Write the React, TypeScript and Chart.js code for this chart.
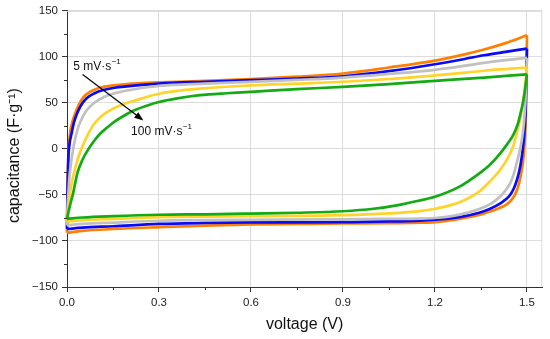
import React, { useEffect, useRef } from 'react';
import { Chart, registerables } from 'chart.js';

Chart.register(...registerables);

// ---- data (voltage V, capacitance F/g) ----
const scanRates = ['5 mV/s', '10 mV/s', '20 mV/s', '50 mV/s', '100 mV/s'];
const colors = ['#FF7F00', '#0A0AF5', '#C0C0C0', '#FFD42A', '#14AA14'];

const orangeUp = [[0,-91],[0.001,-65],[0.002,-40],[0.005,-5],[0.01,17],[0.018,30],[0.026,38],[0.04,49],[0.053,56],[0.075,62],[0.097,65.5],[0.14,68.5],[0.195,70.5],[0.3,72.3],[0.45,74],[0.6,76],[0.75,78.5],[0.9,82],[1.05,88.5],[1.2,96],[1.3,103],[1.36,108],[1.43,115],[1.5,123.5]];
const orangeDown = [[0,-91],[0.05,-89],[0.15,-87],[0.3,-85],[0.45,-83.3],[0.6,-82],[0.75,-81.5],[0.9,-81],[1.05,-80.6],[1.15,-80.2],[1.2,-79.5],[1.28,-76],[1.347,-71.5],[1.38,-68],[1.412,-64],[1.435,-60],[1.455,-53],[1.466,-46],[1.475,-36],[1.483,-23],[1.489,-8],[1.493,10],[1.496,35],[1.498,70],[1.5,123.5]];

const blueUp = [[0,-87],[0.001,-60],[0.002,-40],[0.004,-12],[0.008,5],[0.015,17],[0.022,28],[0.032,38],[0.045,47],[0.064,55],[0.09,60.5],[0.118,64],[0.155,66.5],[0.195,68],[0.3,71],[0.45,73],[0.6,74.7],[0.75,76.5],[0.9,79],[1.05,84.5],[1.2,92],[1.3,98],[1.36,101.8],[1.43,105.5],[1.5,109]];
const blueDown = [[0,-87],[0.05,-85.5],[0.15,-84],[0.3,-81.5],[0.45,-80.4],[0.6,-79.8],[0.9,-79.6],[1.05,-78.8],[1.15,-77.8],[1.2,-76.8],[1.28,-74],[1.347,-69],[1.38,-65],[1.412,-59.5],[1.43,-55],[1.445,-50],[1.457,-43],[1.466,-35],[1.475,-24],[1.483,-9],[1.488,5],[1.493,24],[1.496,45],[1.498,75],[1.5,109]];

const grayUp = [[0,-83],[0.002,-62],[0.005,-45],[0.008,-30],[0.012,-18],[0.02,0],[0.028,13],[0.037,24],[0.05,34],[0.064,42],[0.09,50.5],[0.118,56],[0.155,60.5],[0.195,63.5],[0.3,68.5],[0.45,71],[0.6,72.8],[0.75,75],[0.9,77.6],[1.05,81.5],[1.2,86],[1.3,90.5],[1.36,93.5],[1.43,96.5],[1.5,99]];
const grayDown = [[0,-83],[0.05,-81.5],[0.15,-80],[0.3,-78],[0.45,-77.3],[0.6,-77],[0.9,-76.4],[1.05,-76],[1.15,-75.7],[1.2,-75],[1.28,-71.3],[1.347,-65],[1.38,-60],[1.412,-52],[1.43,-45],[1.445,-37.5],[1.457,-27],[1.466,-16],[1.475,-4],[1.483,9.5],[1.49,28],[1.495,52],[1.5,99]];

const yellowUp = [[0,-79],[0.005,-60],[0.01,-47],[0.02,-30],[0.03,-17],[0.04,-6],[0.053,5],[0.07,17],[0.086,26],[0.11,35],[0.14,42],[0.175,47.5],[0.216,52],[0.3,60],[0.434,65.5],[0.6,69],[0.75,71],[0.9,73],[1.05,76],[1.2,80],[1.3,83],[1.36,85],[1.43,86.8],[1.5,88.5]];
const yellowDown = [[0,-79],[0.05,-77.5],[0.15,-76],[0.3,-74],[0.45,-73.5],[0.6,-73],[0.9,-72],[1.05,-70],[1.15,-67.5],[1.2,-65],[1.28,-58],[1.347,-45.5],[1.38,-35],[1.412,-23],[1.43,-14],[1.445,-5],[1.457,5],[1.466,16],[1.475,28],[1.483,42],[1.49,58],[1.495,72],[1.5,88.5]];

const greenUp = [[0,-76],[0.005,-68],[0.01,-61],[0.02,-48],[0.028,-35],[0.035,-25],[0.05,-12],[0.07,0],[0.09,9.5],[0.108,16.5],[0.13,23],[0.15,28.5],[0.18,35],[0.216,41.5],[0.26,47],[0.3,51],[0.36,55],[0.434,58.4],[0.52,60.5],[0.6,62],[0.75,65],[0.9,67.5],[1.05,70.5],[1.2,74],[1.36,77.6],[1.5,81]];
const greenDown = [[0,-76],[0.05,-74.5],[0.15,-73],[0.3,-71.5],[0.45,-71],[0.6,-70.2],[0.75,-69.3],[0.9,-67.7],[1.0,-65],[1.08,-61],[1.15,-56],[1.2,-52],[1.28,-41],[1.347,-26],[1.38,-17],[1.41,-6],[1.435,5],[1.455,15],[1.47,27],[1.48,40],[1.49,56],[1.5,81]];

const curves = [
  [orangeUp, orangeDown],
  [blueUp, blueDown],
  [grayUp, grayDown],
  [yellowUp, yellowDown],
  [greenUp, greenDown],
];

const xMinor = [0.15, 0.45, 0.75, 1.05, 1.35];
const yMinor = [-125, -75, -25, 25, 75, 125];

// annotation anchor points in data units
const arrowFrom = [0.051, 81];
const arrowTo = [0.249, 31];
const labelLow = { text: '5 mV\u00B7s', sup: '\u22121', x: 0.02, y: 89.6 };
const labelHigh = { text: '100 mV\u00B7s', sup: '\u22121', x: 0.209, y: 18.5 };

const FONT = "'Liberation Sans', Arial, sans-serif";

const extrasPlugin = {
  id: 'extras',
  beforeDatasetsDraw(chart: any) {
    const { ctx, chartArea } = chart;
    ctx.save();
    ctx.strokeStyle = '#DCDCDC';
    ctx.lineWidth = 1;
    ctx.beginPath();
    ctx.moveTo(chartArea.left, chartArea.top + 0.5);
    ctx.lineTo(chartArea.right, chartArea.top + 0.5);
    ctx.moveTo(chartArea.right - 0.5, chartArea.top);
    ctx.lineTo(chartArea.right - 0.5, chartArea.bottom);
    ctx.stroke();
    ctx.restore();
  },
  afterDraw(chart: any) {
    const { ctx, chartArea, scales } = chart;
    const x = scales.x, y = scales.y;
    ctx.save();
    ctx.strokeStyle = '#333';
    ctx.lineWidth = 1;
    ctx.beginPath();
    for (const v of xMinor) {
      const px = Math.round(x.getPixelForValue(v)) + 0.5;
      ctx.moveTo(px, chartArea.bottom);
      ctx.lineTo(px, chartArea.bottom + 3);
    }
    for (const v of yMinor) {
      const py = Math.round(y.getPixelForValue(v)) + 0.5;
      ctx.moveTo(chartArea.left, py);
      ctx.lineTo(chartArea.left - 3, py);
    }
    ctx.stroke();

    // arrow
    const x1 = x.getPixelForValue(arrowFrom[0]), y1 = y.getPixelForValue(arrowFrom[1]);
    const x2 = x.getPixelForValue(arrowTo[0]), y2 = y.getPixelForValue(arrowTo[1]);
    const ang = Math.atan2(y2 - y1, x2 - x1);
    const head = 9, hw = 3.5;
    ctx.strokeStyle = '#000';
    ctx.fillStyle = '#000';
    ctx.lineWidth = 1.2;
    ctx.beginPath();
    ctx.moveTo(x1, y1);
    ctx.lineTo(x2 - Math.cos(ang) * head * 0.8, y2 - Math.sin(ang) * head * 0.8);
    ctx.stroke();
    ctx.beginPath();
    ctx.moveTo(x2, y2);
    ctx.lineTo(x2 - Math.cos(ang) * head - Math.sin(ang) * hw, y2 - Math.sin(ang) * head + Math.cos(ang) * hw);
    ctx.lineTo(x2 - Math.cos(ang) * head + Math.sin(ang) * hw, y2 - Math.sin(ang) * head - Math.cos(ang) * hw);
    ctx.closePath();
    ctx.fill();

    // labels
    ctx.fillStyle = '#111';
    ctx.textBaseline = 'middle';
    ctx.textAlign = 'left';
    for (const lab of [labelLow, labelHigh]) {
      const px = x.getPixelForValue(lab.x), py = y.getPixelForValue(lab.y);
      ctx.font = `12px ${FONT}`;
      ctx.fillText(lab.text, px, py);
      const w = ctx.measureText(lab.text).width;
      ctx.font = `8px ${FONT}`;
      ctx.fillText(lab.sup, px + w + 0.5, py - 5);
    }
    ctx.restore();
  },
};

export default function App() {
  const ref = useRef<HTMLCanvasElement>(null);
  useEffect(() => {
    if (!ref.current) return;
    const datasets: any[] = [];
    for (let i = curves.length - 1; i >= 0; i--) {
      for (const branch of curves[i]) {
        datasets.push({
          label: scanRates[i],
          data: branch.map(([vx, vy]) => ({ x: vx, y: vy })),
          borderColor: colors[i],
          backgroundColor: colors[i],
          borderWidth: 2.7,
          pointRadius: 0,
          showLine: true,
          fill: false,
          cubicInterpolationMode: 'monotone',
          clip: 4,
        });
      }
    }
    const tickFont = { family: FONT, size: 11.5 };
    const chart = new Chart(ref.current, {
      type: 'scatter',
      data: { datasets },
      plugins: [extrasPlugin],
      options: {
        animation: false,
        responsive: false,
        layout: { padding: { top: 10.5, right: 7.7, left: 0, bottom: 0 } },
        plugins: { legend: { display: false }, tooltip: { enabled: false } },
        scales: {
          x: {
            type: 'linear',
            min: 0,
            max: 1.55,
            afterFit: (s: any) => { s.height = 52; },
            grid: { color: '#DCDCDC', lineWidth: 1, tickLength: 5, tickColor: '#333', drawTicks: true },
            border: { color: '#333', width: 1 },
            ticks: {
              stepSize: 0.3,
              includeBounds: false,
              padding: 4,
              color: '#222',
              font: tickFont,
              maxRotation: 0,
              callback: (v: any) => Number(v).toFixed(1),
            },
            title: {
              display: true,
              text: 'voltage (V)',
              color: '#111',
              font: { family: FONT, size: 16 },
              padding: { top: 0, bottom: 4.4 },
            },
          },
          y: {
            type: 'linear',
            min: -150,
            max: 150,
            afterFit: (s: any) => { s.width = 67; },
            grid: { color: '#DCDCDC', lineWidth: 1, tickLength: 5, tickColor: '#333', drawTicks: true },
            border: { color: '#333', width: 1 },
            ticks: {
              stepSize: 50,
              padding: 4,
              color: '#222',
              font: tickFont,
              callback: (v: any) => (Number(v) < 0 ? '\u2212' + Math.abs(Number(v)) : String(v)),
            },
            title: {
              display: true,
              text: 'capacitance (F\u00B7g\u207B\u00B9)\u00A0\u00A0\u00A0',
              color: '#111',
              font: { family: FONT, size: 16 },
              padding: { top: 4.5, bottom: 0 },
            },
          },
        },
      },
    });
    return () => chart.destroy();
  }, []);
  return (
    <div style={{ position: 'fixed', left: 0, top: 0, width: 550, height: 339, background: '#fff' }}>
      <canvas ref={ref} width={550} height={339} style={{ display: 'block' }} />
    </div>
  );
}
